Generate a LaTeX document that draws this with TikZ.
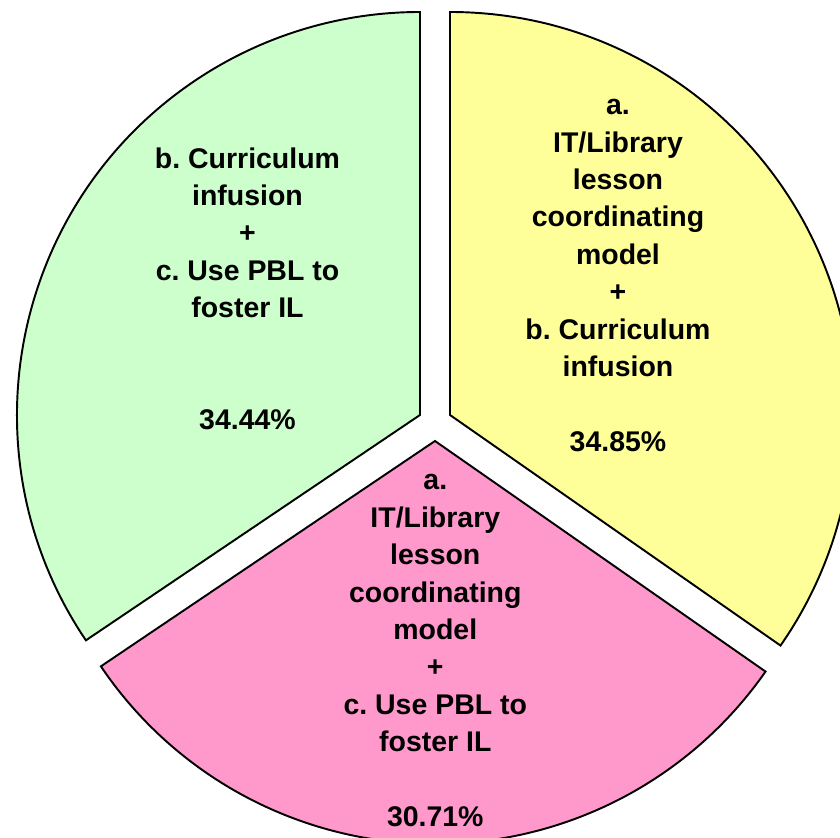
\documentclass[tikz,border=0pt]{standalone}
\usepackage{fontspec}
\setmainfont{Liberation Sans}
\frenchspacing
\definecolor{yfill}{HTML}{FFFF99}
\definecolor{gfill}{HTML}{CCFFCC}
\definecolor{pfill}{HTML}{FF99CC}
\begin{document}
\begin{tikzpicture}[x=0.02cm,y=0.02cm,
  slice/.style={draw=black,line width=1.1pt,line join=miter},
  lbl/.style={font=\bfseries\fontsize{16.2}{21.3}\selectfont\frenchspacing,align=center,inner sep=0pt,anchor=base}]
\useasboundingbox (0,0) rectangle (840,838);
\clip (0,0) rectangle (840,838);
% slices
\draw[slice,fill=yfill] (450,423) -- ++(90:403) arc[start angle=90,end angle=-34.9,radius=403] -- cycle;
\draw[slice,fill=pfill] (435,397) -- ++(-34.9:403) arc[start angle=-34.9,end angle=-146,radius=403] -- cycle;
\draw[slice,fill=gfill] (420,423) -- ++(-146:403) arc[start angle=-146,end angle=-270,radius=403] -- cycle;
% labels (anchor = baseline of the last line)
\node[lbl] (ylab) at (618,386.6) {a.\\IT/Library\\lesson\\coordinating\\model\\+\\b. Curriculum\\infusion\\[21.3pt]34.85\%};
\node[lbl] (plab) at (435.3,11.3) {a.\\IT/Library\\lesson\\coordinating\\model\\+\\c. Use PBL to\\foster IL\\[21.3pt]30.71\%};
\node[lbl] (glab) at (247.5,408) {b. Curriculum\\infusion\\+\\c. Use PBL to\\foster IL\\[42.6pt]34.44\%};
\end{tikzpicture}
\end{document}
